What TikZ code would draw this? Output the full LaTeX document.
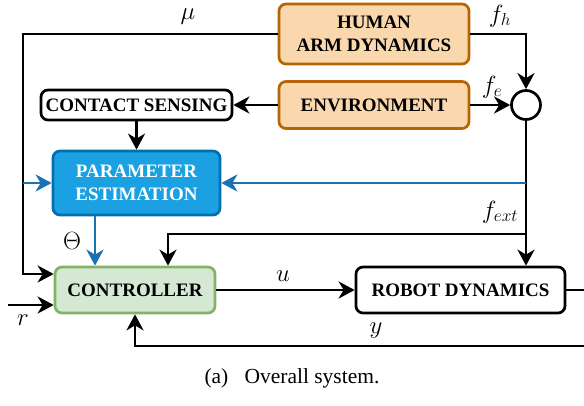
\documentclass[tikz,border=0pt]{standalone}
\usepackage{fontspec}
\setmainfont{Liberation Serif}
\usetikzlibrary{arrows.meta}
\definecolor{orfill}{HTML}{FAD7AC}
\definecolor{ordraw}{HTML}{B46504}
\definecolor{grfill}{HTML}{D5E8D4}
\definecolor{grdraw}{HTML}{82B366}
\definecolor{blfill}{HTML}{1BA1E2}
\definecolor{bldraw}{HTML}{006EAF}
\definecolor{blline}{HTML}{1A72B4}
\begin{document}
\begin{tikzpicture}[x=1pt,y=-1pt,
  blk/.style={draw, line width=2.7pt, rounded corners=7pt, font=\fontsize{19}{22.5}\selectfont\bfseries, align=center, inner sep=0pt},
  orbox/.style={blk, fill=orfill, draw=ordraw},
  wbox/.style={blk, fill=white, draw=black},
  bbox/.style={blk, fill=blfill, draw=bldraw, text=white},
  gbox/.style={blk, fill=grfill, draw=grdraw},
  conn/.style={line width=2.8pt},
  arr/.style={conn, -{Stealth[length=16pt,width=17pt,inset=5pt]}},
  barr/.style={arr, draw=blline},
  lbl/.style={font=\fontsize{24}{26}\selectfont, inner sep=0pt}
]
\path[use as bounding box, clip] (0,0) rectangle (584,405);

\node[orbox, minimum width=190pt, minimum height=60pt] (hum) at (374,34) {HUMAN\\ARM DYNAMICS};
\node[orbox, minimum width=190pt, minimum height=47pt] (env) at (374,105) {ENVIRONMENT};
\node[draw, circle, line width=2.7pt, minimum size=29pt, inner sep=0pt, fill=white] (sum) at (526,105) {};
\node[wbox, minimum width=191pt, minimum height=30pt] (cs) at (136.5,105) {CONTACT SENSING};
\node[bbox, minimum width=167pt, minimum height=64pt] (pe) at (136.5,183) {PARAMETER\\ESTIMATION};
\node[gbox, minimum width=160pt, minimum height=46pt] (ctrl) at (135,290) {CONTROLLER};
\node[wbox, minimum width=209pt, minimum height=46pt] (rd) at (460.5,290) {ROBOT DYNAMICS};

\coordinate (mu2) at (23,274);
\coordinate (pb) at (23,183);
\coordinate (bb) at (526,183);
\coordinate (fb) at (526,234);
\coordinate (th) at (95,0);
\coordinate (fc) at (168,0);
\coordinate (rin) at (8,305);
\coordinate (yc1) at (592,290);
\coordinate (yc2) at (592,346);

% mu path
\draw[arr] (hum.west) -| (mu2) -- (ctrl.west |- mu2);
\draw[barr] (pb) -- (pe.west);
% f_h
\draw[arr] (hum.east) -| (sum.north);
% f_e
\draw[arr] (env.east) -- (sum.west);
\draw[arr] (env.west) -- (cs.east);
\draw[arr] (cs.south) -- (pe.north);
% f_ext
\draw[arr] (sum.south) -- (sum.south |- rd.north);
\draw[barr] (bb) -- (pe.east);
\draw[arr] (fb) -| (ctrl.north -| fc);
% Theta
\draw[barr] (pe.south -| th) -- (ctrl.north -| th);
% u
\draw[arr] (ctrl.east) -- (rd.west);
% y
\draw[arr] (rd.east) -- (yc1) -- (yc2) -| (ctrl.south);
% r
\draw[arr] (rin) -- (ctrl.west |- rin);

\node[lbl] (lmu) at (188,17) {$\mu$};
\node[lbl] (lfh) at (500,16) {$f_h$};
\node[lbl] (lfe) at (492,87) {$f_e$};
\node[lbl] (lfext) at (500,212) {$f_{ext}$};
\node[lbl] (lth) at (72,241) {$\Theta$};
\node[lbl] (lu) at (283,276) {$u$};
\node[lbl] (lr) at (23,320) {$r$};
\node[lbl] (ly) at (376,331) {$y$};
\node[font=\fontsize{21.5}{24}\selectfont, inner sep=0pt] (cap) at (292,378) {(a)\hspace{0.75em}Overall system.};
\end{tikzpicture}
\end{document}
